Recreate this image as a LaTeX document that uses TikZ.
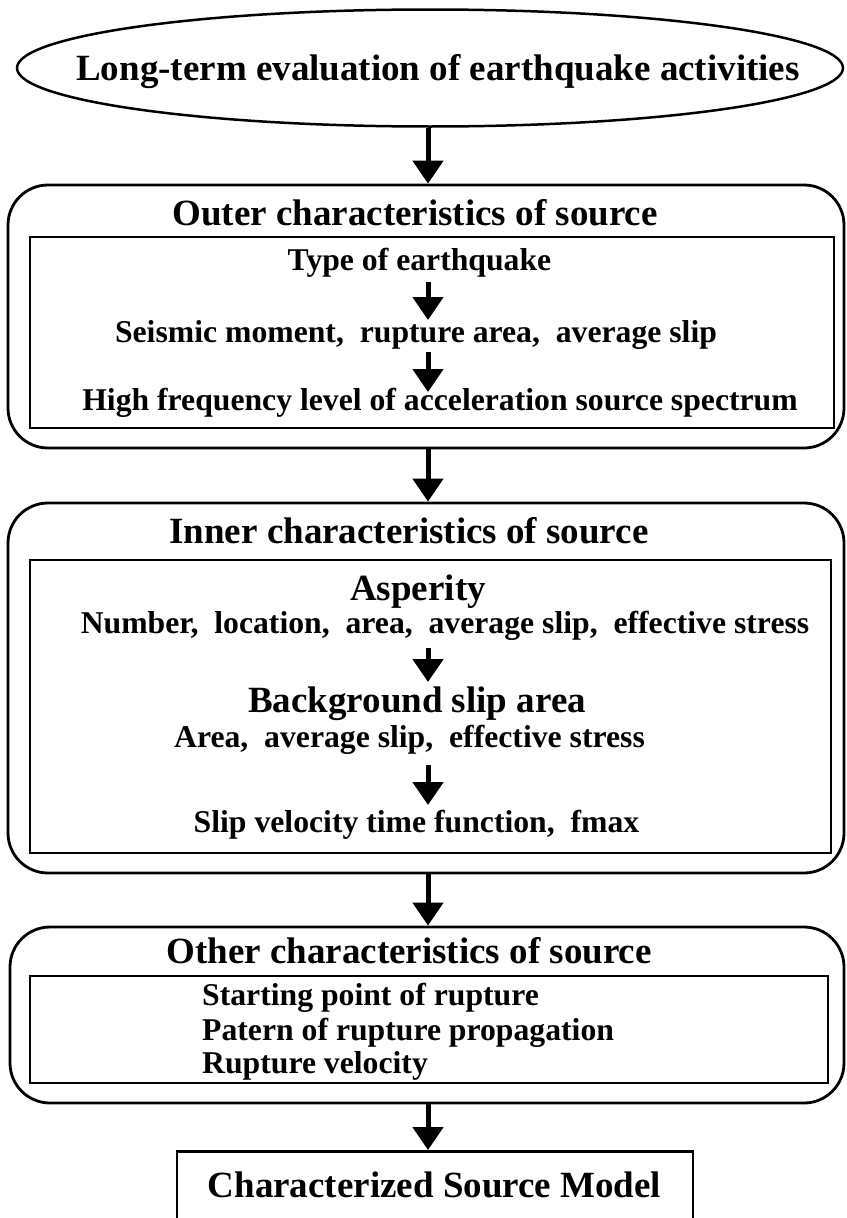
\documentclass[tikz,border=0pt]{standalone}
\usepackage{fontspec}
\setmainfont{Liberation Serif}
\usetikzlibrary{arrows.meta,shapes.geometric,calc}
\begin{document}
\begin{tikzpicture}[x=1pt,y=-1pt,
  big/.style={font=\fontsize{37}{44}\selectfont\bfseries},
  small/.style={font=\fontsize{31.7}{38}\selectfont\bfseries},
  lbl/.style={inner sep=0pt, anchor=base},
  frame/.style={draw, line width=2.8pt, rounded corners=40pt, inner sep=0pt},
  inbox/.style={draw, line width=2.6pt, inner sep=0pt},
  arr/.style={line width=5pt, -{Triangle[width=30pt,length=23pt]}}]
\useasboundingbox (0,0) rectangle (846,1218);
\coordinate (ax) at (428,0);

% top ellipse
\node[draw, ellipse, line width=2.5pt, minimum width=826pt, minimum height=117pt, inner sep=0pt] (ell) at (430,68) {};
\node[lbl,big] (t0) at (438,80) {Long-term evaluation of earthquake activities};

% box 1
\node[frame, minimum width=836pt, minimum height=263pt] (box1) at (426,316.5) {};
\node[inbox, minimum width=804pt, minimum height=191pt] (in1) at (432,332.5) {};
\node[lbl,big] (h1) at (415,225) {Outer characteristics of source};
\node[lbl,small] (t11) at (419.5,270) {Type of earthquake};
\node[lbl,small] (t12) at (416,342) {Seismic moment,\ \ rupture area,\ \ average slip};
\node[lbl,small] (t13) at (440,410) {High frequency level of acceleration source spectrum};

% box 2
\node[frame, minimum width=836pt, minimum height=370pt] (box2) at (426,688) {};
\node[inbox, minimum width=801pt, minimum height=293pt] (in2) at (430.5,706.5) {};
\node[lbl,big] (h2) at (409,543) {Inner characteristics of source};
\node[lbl,big] (t21) at (418,600) {Asperity};
\node[lbl,small] (t22) at (445,633) {Number,\ \ location,\ \ area,\ \ average slip,\ \ effective stress};
\node[lbl,big] (t23) at (417,712) {Background slip area};
\node[lbl,small] (t24) at (409.5,747) {Area,\ \ average slip,\ \ effective stress};
\node[lbl,small] (t25) at (416.5,832) {Slip velocity time function,\ \ fmax};

% box 3
\node[frame, minimum width=834pt, minimum height=176pt] (box3) at (427,1015) {};
\node[inbox, minimum width=798pt, minimum height=107pt] (in3) at (429,1029.5) {};
\node[lbl,big] (h3) at (409,963) {Other characteristics of source};
\node[lbl,small,anchor=base west] (t31) at (202,1005) {Starting point of rupture};
\node[lbl,small,anchor=base west] (t32) at (202,1040) {Patern of rupture propagation};
\node[lbl,small,anchor=base west] (t33) at (202,1073) {Rupture velocity};

% final box (bottom edge outside the picture)
\node[inbox, minimum width=516pt, minimum height=110pt, anchor=north] (fin) at (435,1150) {};
\node[lbl,big] (tf) at (434.5,1197) {Characterized Source Model};

% main arrows
\draw[arr] (ell.south -| ax) -- (box1.north -| ax);
\draw[arr] (box1.south -| ax) -- (box2.north -| ax);
\draw[arr] (box2.south -| ax) -- (box3.north -| ax);
\draw[arr] (box3.south -| ax) -- (fin.north -| ax);

% inner arrows
\draw[arr] ($(t11.base -| ax)+(0,12)$) -- ($(t12.base -| ax)+(0,-22)$);
\draw[arr] ($(t12.base -| ax)+(0,10)$) -- ($(t13.base -| ax)+(0,-18)$);
\draw[arr] ($(t22.base -| ax)+(0,15)$) -- ($(t23.base -| ax)+(0,-30)$);
\draw[arr] ($(t24.base -| ax)+(0,18)$) -- ($(t25.base -| ax)+(0,-27)$);
\end{tikzpicture}
\end{document}
